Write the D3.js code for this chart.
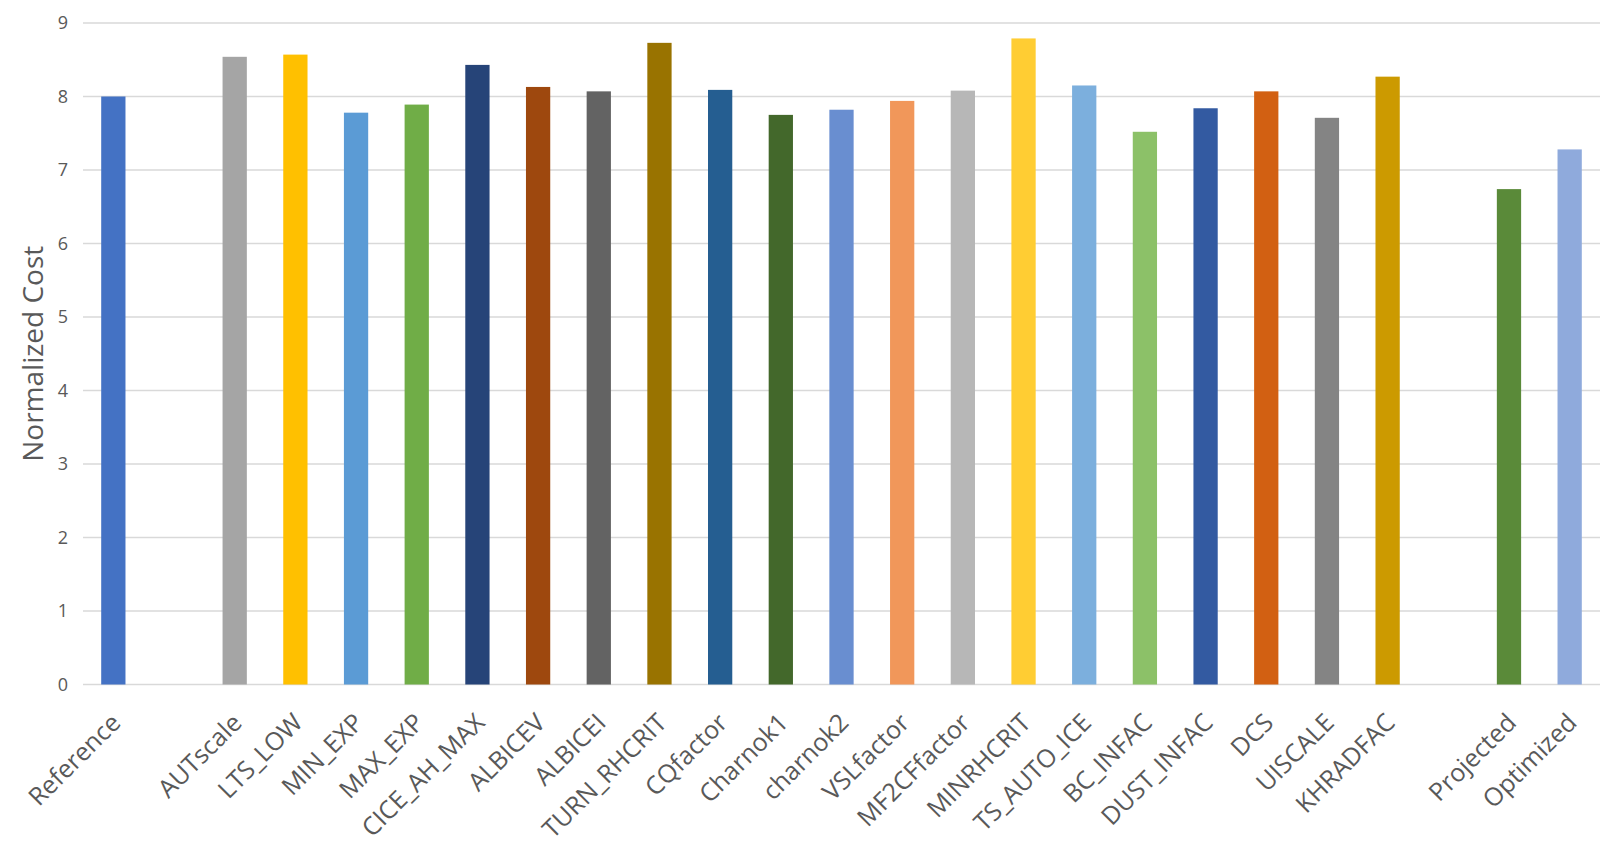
<!DOCTYPE html>
<html>
<head>
<meta charset="utf-8">
<script src="https://cdn.jsdelivr.net/npm/d3@7"></script>
<style>
  html, body { margin: 0; padding: 0; background: #fff; }
  svg { display: block; }
</style>
</head>
<body>
<svg id="chart" width="1618" height="861"></svg>
<script>
// Categories ("" entries are empty slots in the category axis)
const categories = ["Reference", "", "AUTscale", "LTS_LOW", "MIN_EXP", "MAX_EXP", "CICE_AH_MAX",
  "ALBICEV", "ALBICEI", "TURN_RHCRIT", "CQfactor", "Charnok1", "charnok2", "VSLfactor",
  "MF2CFfactor", "MINRHCRIT", "TS_AUTO_ICE", "BC_INFAC", "DUST_INFAC", "DCS", "UISCALE",
  "KHRADFAC", "", "Projected", "Optimized"];
const values = [8.00, null, 8.54, 8.57, 7.78, 7.89, 8.43,
  8.13, 8.07, 8.73, 8.09, 7.75, 7.82, 7.94,
  8.08, 8.79, 8.15, 7.52, 7.84, 8.07, 7.71,
  8.27, null, 6.74, 7.28];
const barColors = ["#4472C4", null, "#A5A5A5", "#FFC000", "#5B9BD5", "#70AD47", "#264478",
  "#9E480E", "#636363", "#997300", "#255E91", "#43682B", "#698ED0", "#F1975A",
  "#B7B7B7", "#FFCD33", "#7CAFDD", "#8CC168", "#335AA1", "#D26012", "#848484",
  "#CC9A00", null, "#5A8A39", "#8FAADC"];
const yTicks = [0, 1, 2, 3, 4, 5, 6, 7, 8, 9];
const yTitle = "Normalized Cost";

const svg = d3.select("#chart");
const mLeft = 83, mRight = 1600, mTop = 23, mBottom = 684.5;
const font = "'Open Sans', 'Noto Sans', sans-serif";
const textColor = "#595959";

const keys = categories.map((c, i) => i);
const x = d3.scaleBand().domain(keys).range([mLeft, mRight]).paddingInner(0.6).paddingOuter(0.3);
const y = d3.scaleLinear().domain([0, 9]).range([mBottom, mTop]);

// gridlines
svg.append("g").selectAll("line").data(yTicks).join("line")
  .attr("x1", mLeft).attr("x2", mRight)
  .attr("y1", d => y(d)).attr("y2", d => y(d))
  .attr("stroke", "#D9D9D9").attr("stroke-width", 1.5);

// y axis labels
const yAxis = d3.axisLeft(y).tickValues(yTicks).tickSize(0).tickPadding(0).tickFormat(d3.format("d"));
const ya = svg.append("g").attr("transform", `translate(${mLeft - 15},0)`).call(yAxis);
ya.select(".domain").remove();
ya.selectAll("text").attr("font-family", font).attr("font-size", 18).attr("fill", textColor);

// bars
const data = keys.filter(i => values[i] != null);
svg.append("g").selectAll("rect").data(data).join("rect")
  .attr("x", i => x(i))
  .attr("width", x.bandwidth())
  .attr("y", i => y(values[i]))
  .attr("height", i => y(0) - y(values[i]))
  .attr("fill", i => barColors[i]);

// x axis labels
const xAxis = d3.axisBottom(x).tickSize(0).tickFormat(i => categories[i]);
const xa = svg.append("g").attr("transform", `translate(0,${mBottom})`).call(xAxis);
xa.select(".domain").remove();
xa.selectAll(".tick text")
  .attr("font-family", font).attr("font-size", 25).attr("fill", textColor)
  .attr("text-anchor", "end")
  .attr("dy", "0.72em").attr("y", 0)
  .attr("transform", "translate(-4,27) rotate(-45)");

// y axis title
svg.append("text")
  .attr("transform", `translate(43,${(mTop + mBottom) / 2}) rotate(-90)`)
  .attr("text-anchor", "middle")
  .attr("font-family", font).attr("font-size", 28).attr("fill", textColor)
  .text(yTitle);
</script>
</body>
</html>
